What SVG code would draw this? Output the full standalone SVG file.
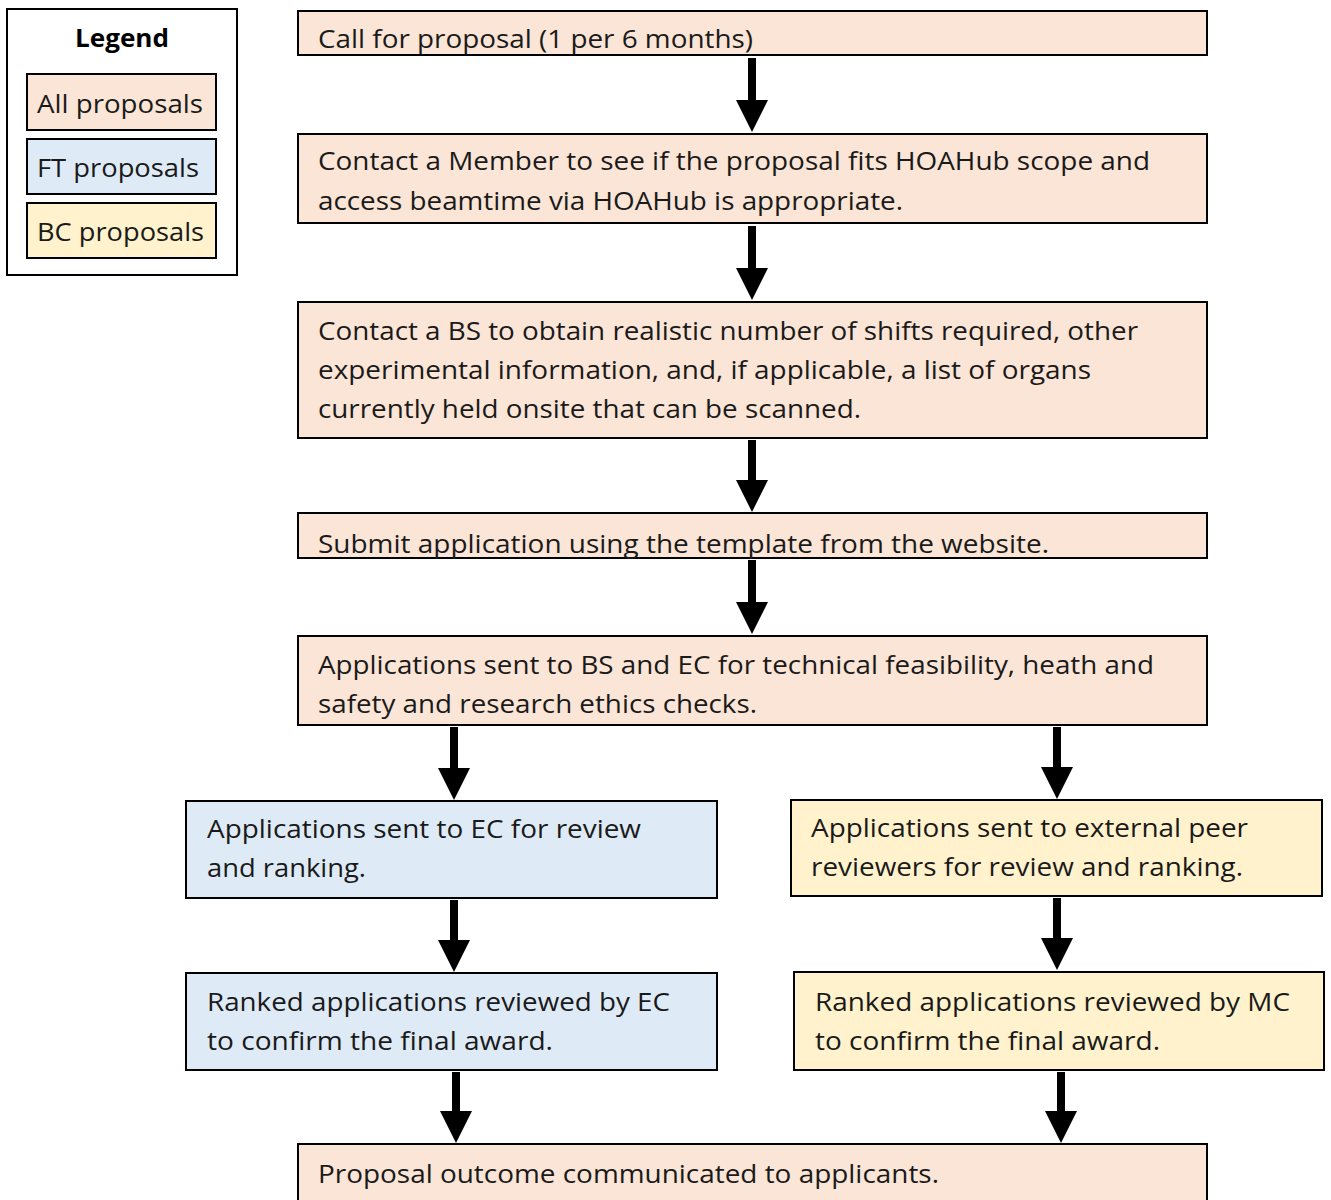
<svg xmlns="http://www.w3.org/2000/svg" width="1331" height="1200" viewBox="0 0 1331 1200">
<style>
.all{fill:#FBE5D6;stroke:#000;stroke-width:2}
.ft{fill:#DEEBF7;stroke:#000;stroke-width:2}
.bc{fill:#FFF2CC;stroke:#000;stroke-width:2}
.leg{fill:#fff;stroke:#000;stroke-width:2}
text{font-family:"Open Sans","Liberation Sans",sans-serif;font-size:25px;fill:#1a1a1a}
.b{font-weight:bold;fill:#000}
.arr{fill:#000}
</style>
<rect width="1331" height="1200" fill="#fff"/>
<g id="legend">
<rect class="leg" x="7" y="9" width="230" height="266"/>
<text class="b" x="122" y="47" text-anchor="middle" textLength="94" lengthAdjust="spacingAndGlyphs">Legend</text>
<rect class="all" x="27" y="74" width="189" height="56"/>
<text x="37" y="113" textLength="166" lengthAdjust="spacingAndGlyphs">All proposals</text>
<rect class="ft" x="27" y="139" width="189" height="55"/>
<text x="37" y="177" textLength="162" lengthAdjust="spacingAndGlyphs">FT proposals</text>
<rect class="bc" x="27" y="203" width="189" height="55"/>
<text x="37" y="241" textLength="167" lengthAdjust="spacingAndGlyphs">BC proposals</text>
</g>
<g id="n1">
<rect class="all" x="298" y="11" width="909" height="44"/>
<text x="318" y="48" textLength="435" lengthAdjust="spacingAndGlyphs">Call for proposal (1 per 6 months)</text>
</g>
<g id="n2">
<rect class="all" x="298" y="134" width="909" height="89"/>
<text x="318" y="170" textLength="832" lengthAdjust="spacingAndGlyphs">Contact a Member to see if the proposal fits HOAHub scope and</text>
<text x="318" y="210" textLength="585" lengthAdjust="spacingAndGlyphs">access beamtime via HOAHub is appropriate.</text>
</g>
<g id="n3">
<rect class="all" x="298" y="302" width="909" height="136"/>
<text x="318" y="340" textLength="820" lengthAdjust="spacingAndGlyphs">Contact a BS to obtain realistic number of shifts required, other</text>
<text x="318" y="379" textLength="773" lengthAdjust="spacingAndGlyphs">experimental information, and, if applicable, a list of organs</text>
<text x="318" y="418" textLength="543" lengthAdjust="spacingAndGlyphs">currently held onsite that can be scanned.</text>
</g>
<g id="n4">
<rect class="all" x="298" y="513" width="909" height="45"/>
<text x="318" y="553" textLength="731" lengthAdjust="spacingAndGlyphs">Submit application using the template from the website.</text>
</g>
<g id="n5">
<rect class="all" x="298" y="636" width="909" height="89"/>
<text x="318" y="674" textLength="836" lengthAdjust="spacingAndGlyphs">Applications sent to BS and EC for technical feasibility, heath and</text>
<text x="318" y="713" textLength="439" lengthAdjust="spacingAndGlyphs">safety and research ethics checks.</text>
</g>
<g id="ft1">
<rect class="ft" x="186" y="801" width="531" height="97"/>
<text x="207" y="838" textLength="434" lengthAdjust="spacingAndGlyphs">Applications sent to EC for review</text>
<text x="207" y="877" textLength="159" lengthAdjust="spacingAndGlyphs">and ranking.</text>
</g>
<g id="bc1">
<rect class="bc" x="791" y="800" width="531" height="96"/>
<text x="811" y="837" textLength="437" lengthAdjust="spacingAndGlyphs">Applications sent to external peer</text>
<text x="811" y="876" textLength="432" lengthAdjust="spacingAndGlyphs">reviewers for review and ranking.</text>
</g>
<g id="ft2">
<rect class="ft" x="186" y="973" width="531" height="97"/>
<text x="207" y="1011" textLength="463" lengthAdjust="spacingAndGlyphs">Ranked applications reviewed by EC</text>
<text x="207" y="1050" textLength="346" lengthAdjust="spacingAndGlyphs">to confirm the final award.</text>
</g>
<g id="bc2">
<rect class="bc" x="794" y="972" width="530" height="98"/>
<text x="815" y="1011" textLength="475" lengthAdjust="spacingAndGlyphs">Ranked applications reviewed by MC</text>
<text x="815" y="1050" textLength="345" lengthAdjust="spacingAndGlyphs">to confirm the final award.</text>
</g>
<g id="n6">
<rect class="all" x="298" y="1144" width="909" height="70"/>
<text x="318" y="1183" textLength="621" lengthAdjust="spacingAndGlyphs">Proposal outcome communicated to applicants.</text>
</g>
<g id="connectors" class="arr">
<path d="M748 58H756V100H768L752 132L736 100H748Z"/>
<path d="M748 226H756V268H768L752 300L736 268H748Z"/>
<path d="M748 440H756V480H768L752 512L736 480H748Z"/>
<path d="M748 560H756V602H768L752 634L736 602H748Z"/>
<path d="M450 727H458V768H470L454 800L438 768H450Z"/>
<path d="M1053 727H1061V767H1073L1057 799L1041 767H1053Z"/>
<path d="M450 900H458V940H470L454 972L438 940H450Z"/>
<path d="M1053 898H1061V938H1073L1057 970L1041 938H1053Z"/>
<path d="M452 1072H460V1111H472L456 1143L440 1111H452Z"/>
<path d="M1057 1072H1065V1111H1077L1061 1143L1045 1111H1057Z"/>
</g>
</svg>
